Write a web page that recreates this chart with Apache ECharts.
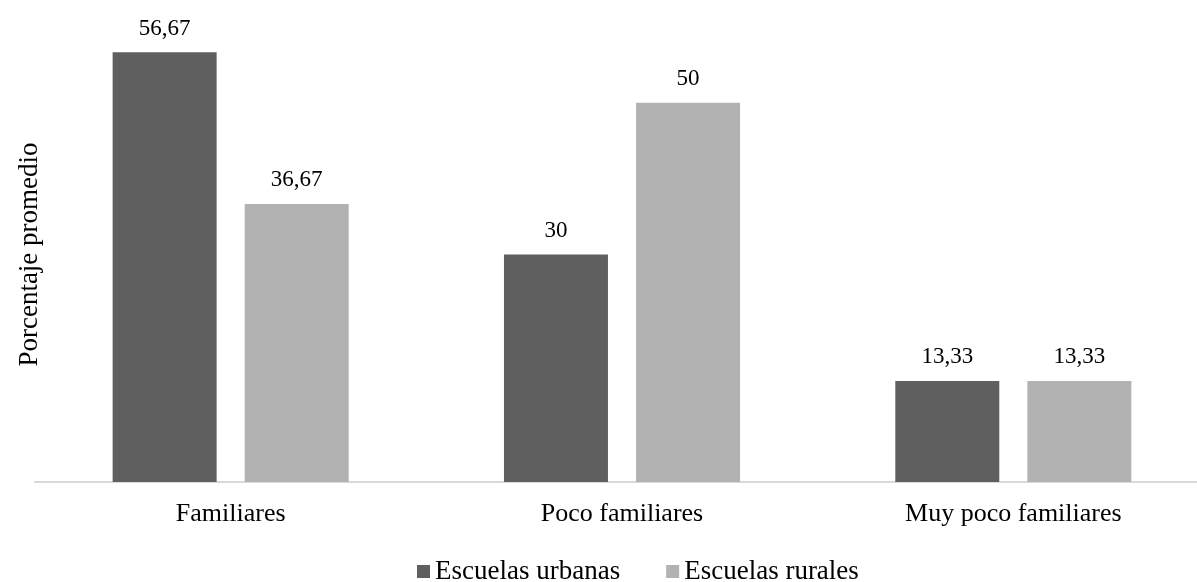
<!DOCTYPE html>
<html><head><meta charset="utf-8">
<script src="https://cdn.jsdelivr.net/npm/echarts@6/dist/echarts.min.js"></script>
<style>html,body{margin:0;padding:0;background:#fff}#c{width:1197px;height:582px}</style>
</head><body><div id="c"></div>
<script>
const categories = ['Familiares', 'Poco familiares', 'Muy poco familiares'];
const seriesNames = ['Escuelas urbanas', 'Escuelas rurales'];
const urbanas = [56.67, 30, 13.33];
const rurales = [36.67, 50, 13.33];

const font = '"Liberation Serif", "Times New Roman", serif';
const chart = echarts.init(document.getElementById('c'));
const lbl = {
  show: true, position: 'top', distance: 12, color: '#000', fontFamily: font, fontSize: 23,
  formatter: p => String(p.value).replace('.', ',')
};
chart.setOption({
  animation: false,
  textStyle: { fontFamily: font },
  grid: { left: 35, width: 1174, top: 27, bottom: 100, containLabel: false, outerBoundsMode: 'none' },
  legend: {
    data: seriesNames, left: 412, top: 553, itemWidth: 13, itemHeight: 13, itemGap: 46,
    icon: 'rect', textStyle: { fontFamily: font, fontSize: 27, color: '#000' }
  },
  xAxis: {
    type: 'category', data: categories,
    axisLine: { lineStyle: { color: '#d9d9d9', width: 2 } },
    axisTick: { show: false },
    axisLabel: { color: '#000', fontFamily: font, fontSize: 26, margin: 19 }
  },
  yAxis: {
    type: 'value', min: 0, max: 60,
    name: 'Porcentaje promedio', nameLocation: 'middle', nameGap: -8, nameRotate: 90,
    nameTextStyle: { color: '#000', fontFamily: font, fontSize: 27 },
    axisLine: { show: false }, axisTick: { show: false }, axisLabel: { show: false },
    splitLine: { show: false }
  },
  series: [
    { name: seriesNames[0], type: 'bar', data: urbanas, barWidth: 104, barGap: '27%',
      itemStyle: { color: '#5f5f5f' }, label: lbl },
    { name: seriesNames[1], type: 'bar', data: rurales, barWidth: 104,
      itemStyle: { color: '#b2b2b2' }, label: lbl }
  ]
});
</script></body></html>
